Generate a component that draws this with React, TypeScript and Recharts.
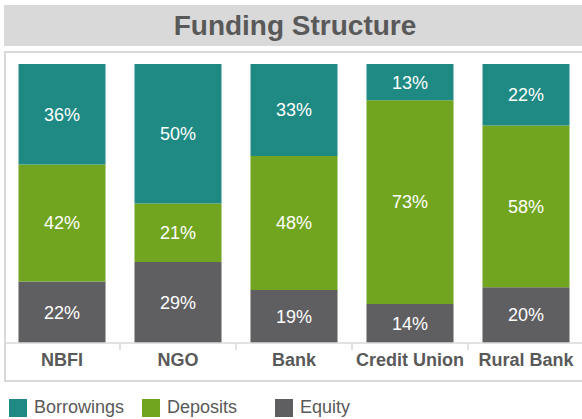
import { BarChart, Bar, XAxis, YAxis, LabelList } from "recharts";

const categories = ["NBFI", "NGO", "Bank", "Credit Union", "Rural Bank"];
const borrowings = [36, 50, 33, 13, 22];
const deposits = [42, 21, 48, 73, 58];
const equity = [22, 29, 19, 14, 20];

const seriesNames = ["Borrowings", "Deposits", "Equity"];
const seriesColors = ["#1F8A83", "#71A520", "#5F5F61"];

const FONT = "'Liberation Sans', Arial, sans-serif";
const TEXT = "#595959";
const FRAME = "#D9D9D9";

const data = categories.map((name, i) => ({
  name,
  Borrowings: borrowings[i],
  Deposits: deposits[i],
  Equity: equity[i],
}));

// label plus a small divider tick at the right edge of each category band
function CategoryTick({ x, y, payload, width, visibleTicksCount, index }: any) {
  const band = width / visibleTicksCount;
  const edge = x + band / 2;
  return (
    <g>
      {index < visibleTicksCount - 1 && (
        <line x1={edge} x2={edge} y1={y} y2={y + 7} stroke={FRAME} strokeWidth={1.5} />
      )}
      <text
        x={x}
        y={y + 23}
        textAnchor="middle"
        fontFamily={FONT}
        fontSize={18}
        fontWeight="bold"
        fill={TEXT}
      >
        {payload.value}
      </text>
    </g>
  );
}

export default function App() {
  // draw bottom segment first so equity sits at the base
  const stackOrder = [2, 1, 0];

  return (
    <div
      style={{
        position: "absolute",
        left: 0,
        top: 0,
        width: 582,
        height: 419,
        overflow: "hidden",
        background: "#fff",
        fontFamily: FONT,
      }}
    >
      <div
        style={{
          position: "absolute",
          left: 4,
          top: 5,
          width: 582,
          height: 41,
          background: FRAME,
          color: TEXT,
          fontSize: 28,
          fontWeight: "bold",
          lineHeight: "42px",
          textAlign: "center",
        }}
      >
        Funding Structure
      </div>
      <div
        style={{
          position: "absolute",
          left: 4,
          top: 51,
          width: 590,
          height: 331,
          boxSizing: "border-box",
          border: `2px solid ${FRAME}`,
        }}
      />
      <div style={{ position: "absolute", left: 4, top: 51 }}>
        <BarChart
          width={582}
          height={331}
          data={data}
          margin={{ top: 13, right: 2, left: 0, bottom: 0 }}
          barCategoryGap="12.5%"
        >
          <XAxis
            dataKey="name"
            height={39}
            axisLine={{ stroke: FRAME, strokeWidth: 1.5 }}
            tickLine={false}
            tickSize={0}
            tickMargin={0}
            interval={0}
            tick={<CategoryTick />}
          />
          <YAxis hide domain={[0, 100]} />
          {stackOrder.map((i) => (
            <Bar
              key={seriesNames[i]}
              dataKey={seriesNames[i]}
              stackId="a"
              fill={seriesColors[i]}
              isAnimationActive={false}
            >
              <LabelList
                dataKey={seriesNames[i]}
                position="center"
                fill="#fff"
                fontSize={18}
                fontFamily={FONT}
                formatter={(v: any) => `${v}%`}
              />
            </Bar>
          ))}
        </BarChart>
      </div>
      {seriesNames.map((name, i) => (
        <div
          key={name}
          style={{
            position: "absolute",
            left: 9 + i * 133,
            top: 398,
            height: 19,
            display: "flex",
            alignItems: "center",
            color: TEXT,
            fontSize: 18,
          }}
        >
          <span
            style={{
              display: "inline-block",
              width: 18,
              height: 18,
              background: seriesColors[i],
              marginRight: 7,
            }}
          />
          {name}
        </div>
      ))}
    </div>
  );
}
